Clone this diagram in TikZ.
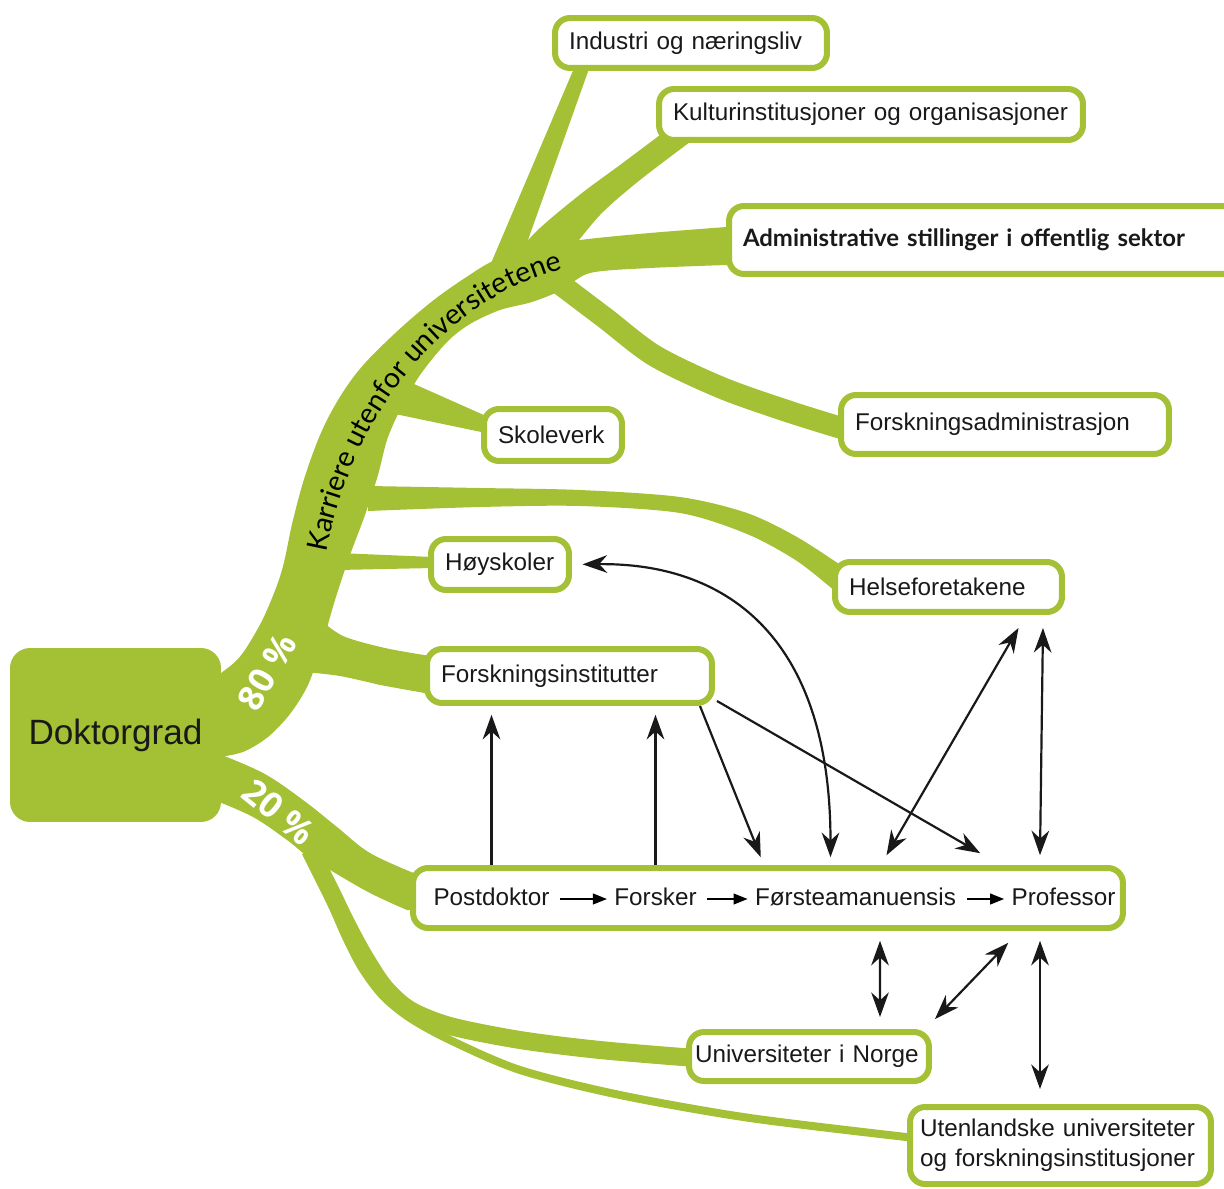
\documentclass[tikz,border=0pt]{standalone}
\usepackage{fontspec}
\setmainfont{Liberation Sans}
\newfontfamily\treefont{Lato}
\newfontfamily\pctfont{Open Sans}
\usetikzlibrary{positioning,arrows.meta,decorations.text}
\definecolor{treegreen}{HTML}{A4C034}
\newcommand\boxfont{\fontsize{13.8pt}{17pt}\selectfont}

\begin{document}
\begin{tikzpicture}[x=0.02cm,y=-0.02cm,
    >={Stealth[length=14pt,width=10pt,inset=4.5pt]},
    gbox/.style={draw=treegreen,line width=0.12cm,rounded corners=0.3cm,fill=white,
                 inner xsep=0.28cm,align=left,font=\boxfont,text=black!90},
    word/.style={inner sep=0pt,text height=10pt,text depth=3pt,font=\boxfont,text=black!90},
    twig/.style={draw=treegreen,line width=#1},
    stepline/.style={line width=1.2pt,-{Triangle[length=8pt,width=6pt]},
                     shorten <=6pt,shorten >=4pt},
    link/.style={line width=1.25pt,black!90}]
\useasboundingbox (0,0) rectangle (1224,1189);

% the tree
\begin{scope}
    % upper trunk, with the limb to the public sector
    \fill[treegreen] plot[smooth,tension=0.6] coordinates {(214,678) (237,660) (253,637) (267,610) (282,570) (293,520) (307,470) (327,420) (355,375) (390,338) (430,303) (465,278) (495,260) (530,248) (580,240) (650,233) (740,226)}
        -- (740,266)
        -- plot[smooth,tension=0.5] coordinates {(727,265) (650,268) (590,273) (562,290) (532,302) (500,310) (470,324) (447,342) (420,375) (400,410) (387,440) (378,475) (365,515) (350,555) (335,600) (322,645) (308,685) (290,714) (268,737) (243,752) (214,758)}
        -- cycle;
    % lower trunk
    \fill[treegreen] plot[smooth,tension=0.6] coordinates {(214,752) (263,773) (303,800) (337,827) (370,853) (416,874)}
        -- (416,910)
        -- plot[smooth,tension=0.6] coordinates {(407,910) (370,893) (330,870) (307,856) (287,840) (253,817) (214,800)}
        -- cycle;
    \fill[treegreen] (575,66) -- (590,66) -- (518,268) -- (486,275) -- cycle;
    \fill[treegreen] plot[smooth] coordinates {(664,132) (620,165) (582,193) (540,228) (508,262)}
        -- plot[smooth] coordinates {(565,258) (600,215) (640,180) (698,136)} -- cycle;
    \draw[twig=0.44cm] plot[smooth] coordinates {(560,284) (605,318) (655,356) (722,388) (790,412) (848,430)};
    \fill[treegreen] (405,380) -- (486,416) -- (486,433) -- (395,414) -- cycle;
    \fill[treegreen] plot[smooth] coordinates {(368,486) (480,488) (580,490) (680,497) (747,513) (797,537) (842,566)}
        -- plot[smooth] coordinates {(836,592) (797,561) (747,534) (680,513) (580,506) (480,507) (368,511)} -- cycle;
    \fill[treegreen] (338,553) -- (433,557) -- (433,568) -- (338,570) -- cycle;
    \fill[treegreen] plot[smooth] coordinates {(318,618) (343,636) (385,648) (430,656)}
        -- (430,694) -- plot[smooth] coordinates {(380,685) (340,676) (305,672)} -- cycle;
    \draw[twig=0.36cm] plot[smooth] coordinates {(310,850) (330,890) (347,925) (365,958) (385,988) (410,1010) (450,1026) (520,1040) (600,1050) (695,1058)};
    \draw[twig=0.16cm] plot[smooth] coordinates {(312,860) (330,900) (345,935) (362,968) (383,996) (410,1018) (450,1040) (520,1070) (620,1095) (750,1118) (915,1138)};
\end{scope}

% labels on the tree
\node[text=white,font=\pctfont\bfseries\fontsize{20pt}{20pt}\selectfont,rotate=60] (pct80) at (267,672) {80 \%};
\node[text=white,font=\pctfont\bfseries\fontsize{20pt}{20pt}\selectfont,rotate=-39] (pct20) at (279,812) {20 \%};
\path[decorate,decoration={text along path,text align=center,
      text={|\treefont\fontsize{16.2pt}{16pt}\selectfont|Karriere utenfor universitetene}}]
    (326,556) .. controls (350,420) and (440,300) .. (566,268);

% boxes
\node[fill=treegreen,rounded corners=0.4cm,minimum width=4.22cm,minimum height=3.48cm,
      font=\fontsize{20pt}{20pt}\selectfont,text=black!90] (doktor) at (115.5,735) {Doktorgrad};
\begin{scope}[every node/.style={gbox}]
    \node[minimum height=1cm,text width=4.88cm] (industri) at (691,43) {Industri og næringsliv};
    \node[minimum height=1.02cm,text width=7.92cm] (kultur) at (871,114.5) {Kulturinstitusjoner og organisasjoner};
    \node[minimum height=1.36cm,text width=9.72cm,font=\treefont\bfseries\fontsize{13.6pt}{17pt}\selectfont] (admin) at (986,240) {Administrative stillinger i offentlig sektor};
    \node[minimum height=1.18cm,text width=6cm] (fadm) at (1005,424.5) {Forskningsadministrasjon};
    \node[minimum height=1.04cm,text width=2.2cm] (skole) at (553,435) {Skoleverk};
    \node[minimum height=1cm,text width=3.98cm] (helse) at (948.5,587) {Helseforetakene};
    \node[minimum height=1.02cm,text width=2.2cm] (hoy) at (500,564.5) {Høyskoler};
    \node[minimum height=1.08cm,text width=5.14cm] (finst) at (569.5,676) {Forskningsinstitutter};
    \node[minimum height=1.2cm,minimum width=14.2cm] (hovedboks) at (768,898) {};
    \node[minimum height=0.98cm,inner xsep=0.12cm,text width=4.56cm] (uni) at (809,1056.5) {Universiteter i Norge};
    \node[minimum height=1.54cm,inner xsep=0.2cm,text width=5.62cm] (uten) at (1060.5,1145.5) {Utenlandske universiteter\\og forskningsinstitusjoner};
\end{scope}

% the academic ladder
\node[word] (postdok) at (491.5,899) {Postdoktor};
\node[word] (forsker) at (655.5,899) {Forsker};
\node[word] (forsteam) at (855.5,899) {Førsteamanuensis};
\node[word] (prof) at (1063.5,899) {Professor};
\draw[stepline] (postdok) -- (forsker);
\draw[stepline] (forsker) -- (forsteam);
\draw[stepline] (forsteam) -- (prof);

% movements between the sectors
\begin{scope}[every path/.style={link}]
    \draw[->,shorten >=5pt] (postdok.north |- hovedboks.north) -- (postdok.north |- finst.south);
    \draw[->,shorten >=5pt] (forsker.north |- hovedboks.north) -- (forsker.north |- finst.south);
    \draw[->] ([xshift=-0.3cm]finst.south east) -- ([shift={(6,-30)}]forsteam.north west);
    \draw[->] ([shift={(2,-5)}]finst.south east) -- ([shift={(-31,-34)}]prof.north west);
    \draw[<->,shorten <=6pt] (hoy.east) .. controls +(150,-2) and +(0,-225) .. ([shift={(-25,-30)}]forsteam.north);
    \draw[<->] ([shift={(31,-32)}]forsteam.north) -- ([shift={(70,13)}]helse.south);
    \draw[<->] ([shift={(-23.5,-32)}]prof.north) -- ([shift={(-22,13)}]helse.south east);
    \draw[<->] ([shift={(24.5,30)}]forsteam.south) -- ([shift={(71,-12)}]uni.north);
    \draw[<->] ([shift={(3,-10)}]uni.north east) -- ([shift={(-3,32)}]prof.south west);
    \draw[<->] ([shift={(-23.5,30)}]prof.south) -- ([shift={(-20.5,-15)}]uten.north);
\end{scope}
\end{tikzpicture}
\end{document}
